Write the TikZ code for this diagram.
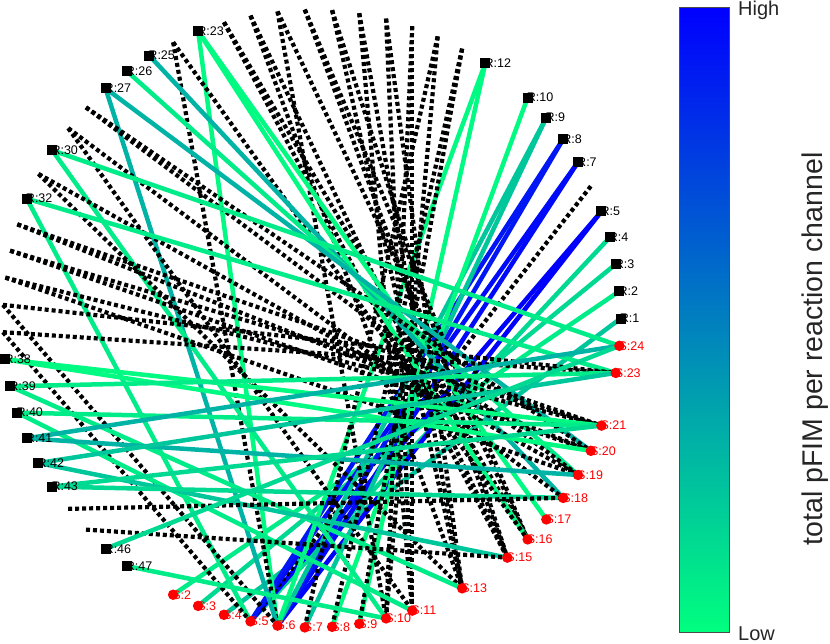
\documentclass[tikz,border=0pt]{standalone}
\usepackage{fontspec}
\setmainfont{Liberation Sans}
\definecolor{g0}{RGB}{0,250,130}
\definecolor{g1}{RGB}{0,236,137}
\definecolor{g2}{RGB}{0,217,146}
\definecolor{g3}{RGB}{0,199,155}
\definecolor{g4}{RGB}{0,180,165}
\definecolor{b1}{RGB}{0,22,244}
\definecolor{b2}{RGB}{0,10,250}
\definecolor{b3}{RGB}{0,0,255}
\definecolor{cbot}{RGB}{0,255,127}
\definecolor{ctop}{RGB}{0,0,255}
\definecolor{sred}{RGB}{255,0,0}
\tikzset{
  dl/.style={line width=4.2pt, draw=black, dash pattern=on 4pt off 3pt},
  cg0/.style={line width=4.5pt, draw=g0},
  cg1/.style={line width=4.5pt, draw=g1},
  cg2/.style={line width=4.5pt, draw=g2},
  cg3/.style={line width=4.5pt, draw=g3},
  cg4/.style={line width=4.5pt, draw=g4},
  cb1/.style={line width=4.5pt, draw=b1},
  cb2/.style={line width=4.5pt, draw=b2},
  cb3/.style={line width=4.5pt, draw=b3},
  rmk/.style={rectangle, fill=black, minimum size=10pt, inner sep=0pt},
  smk/.style={circle, fill=sred, minimum size=10.5pt, inner sep=0pt},
  rlab/.style={anchor=west, inner sep=0pt, xshift=-1pt, font=\fontsize{12.5}{13}\selectfont, text=black},
  slab/.style={rlab, text=sred},
}
\begin{document}
\begin{tikzpicture}[x=1pt,y=-1pt]
\useasboundingbox (0,0) rectangle (830,643);
% node positions on the circle (71 positions, step 360/71 degrees)
\foreach \k in {1,...,47}{
  \coordinate (R\k) at ({311.6+309*cos((\k-1)*5.070423)},{318.5-309*sin((\k-1)*5.070423)});
}
\foreach \k in {1,...,24}{
  \coordinate (S\k) at ({311.6+309*cos((\k-25)*5.070423)},{318.5-309*sin((\k-25)*5.070423)});
}
% edges, in reaction order
\foreach \r/\s/\st in {
  1/4/cg3, 2/2/cg1, 3/3/cg2, 4/5/cg2,
  5/5/cb3, 5/6/cb3, 6/5/dl, 7/5/cb2, 7/6/cb2, 8/5/cb1, 8/6/cb1,
  9/6/cg3, 9/7/cg3, 10/8/cg0, 12/6/cg0, 12/9/cg0,
  13/8/dl, 13/9/dl, 14/10/dl, 14/7/dl, 15/11/dl, 15/10/dl,
  16/11/dl, 16/13/dl, 17/13/dl, 17/11/dl, 18/13/dl, 18/15/dl,
  19/15/dl, 19/16/dl, 20/10/dl, 20/16/dl, 21/15/dl, 21/13/dl,
  22/15/dl, 22/16/dl,
  23/6/cg0, 23/16/cg0, 23/17/cg0,
  24/16/dl, 24/6/dl,
  25/18/cg4, 26/19/cg1, 27/20/cg4, 27/6/cg4,
  28/20/dl, 28/19/dl, 29/18/dl, 29/11/dl,
  30/24/cg1, 30/10/cg1,
  31/19/dl, 31/13/dl,
  32/23/cg1, 32/5/cg1,
  33/20/dl, 33/21/dl, 34/21/dl, 34/20/dl, 35/21/dl, 35/19/dl,
  36/23/dl, 36/6/dl, 37/23/dl, 37/5/dl,
  38/21/cg0, 38/20/cg0, 39/23/cg1, 39/13/cg1, 40/21/cg1, 40/11/cg1,
  41/19/cg4, 41/24/cg4, 42/23/cg3, 42/15/cg3, 43/21/cg2, 43/18/cg2,
  44/18/dl, 45/15/dl, 46/24/cg2, 47/10/cg1}{
  \draw[\st] (R\r) -- (S\s);
}
% markers and labels
\foreach \k in {1,2,3,4,5,7,8,9,10,12,23,25,26,27,30,32,38,39,40,41,42,43,46,47}{
  \node[rmk] (mR\k) at (R\k) {};
  \node[rlab] (lR\k) at (R\k) {R:\k};
}
\foreach \k in {2,3,4,5,6,7,8,9,10,11,13,15,16,17,18,19,20,21,23,24}{
  \node[smk] (mS\k) at (S\k) {};
  \node[slab] (lS\k) at (S\k) {S:\k};
}
% colour bar
\shade[bottom color=cbot, top color=ctop] (679,7) rectangle (729,632);
\draw[line width=0.7pt, draw=black!70] (679,7) rectangle (729,632);
\node[anchor=base west, inner sep=0pt, font=\fontsize{20}{22}\selectfont, text=black!85] (high) at (738,15) {High};
\node[anchor=base west, inner sep=0pt, font=\fontsize{20}{22}\selectfont, text=black!85] (low) at (738,640) {Low};
\node[rotate=90, inner sep=0pt, font=\fontsize{28.5}{30}\selectfont, text=black!85] (cblab) at (815,349) {total pFIM per reaction channel};
\end{tikzpicture}
\end{document}
